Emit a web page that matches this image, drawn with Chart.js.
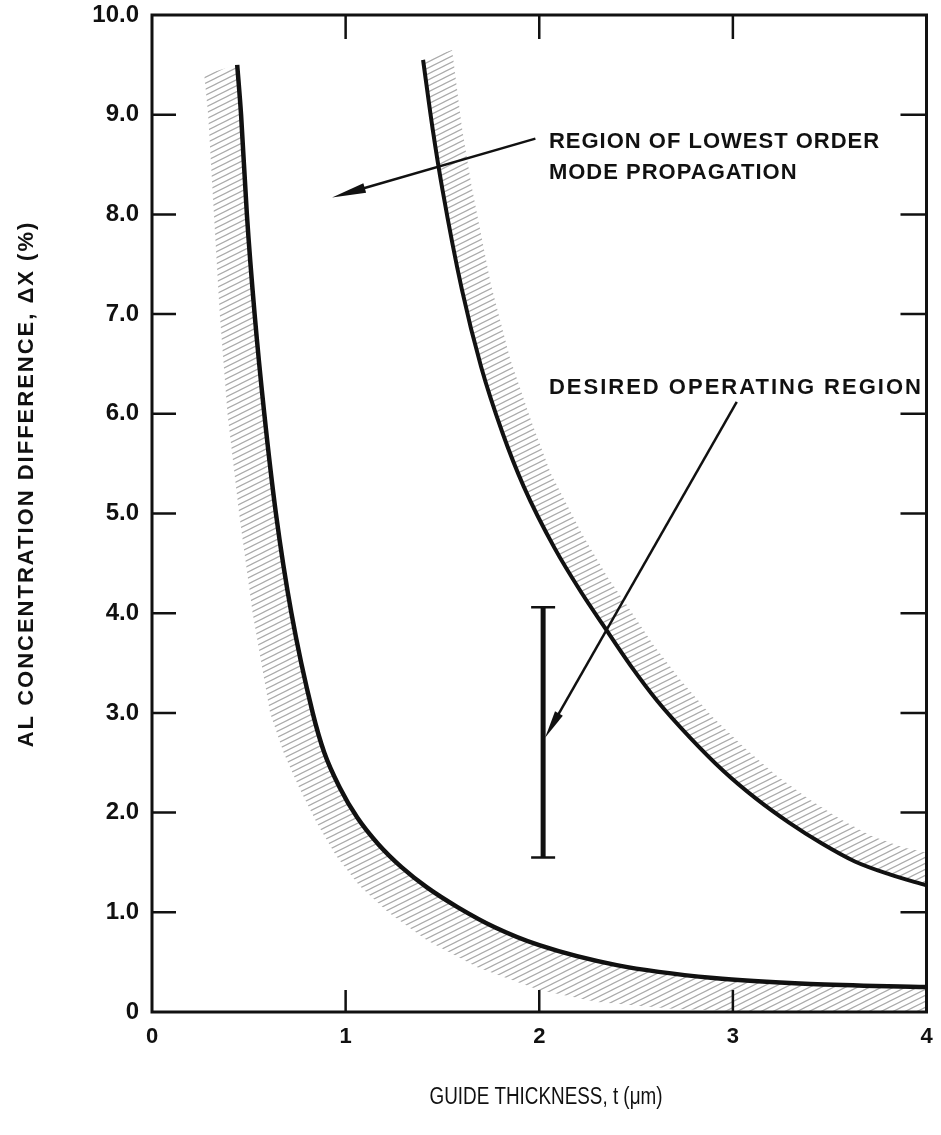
<!DOCTYPE html>
<html>
<head>
  <title>Guide thickness vs Al concentration difference</title>
  <style>
    html, body { margin: 0; padding: 0; background: #ffffff; overflow: hidden; }
    #chart { display: block; }
  </style>
</head>
<body>
  <canvas id="chart" width="941" height="1135"></canvas>

  <script src="https://cdn.jsdelivr.net/npm/chart.js"></script>
  <script>
    // Axis ticks
    const xTicks = [0, 1, 2, 3, 4];
    const yTicks = [0, 1, 2, 3, 4, 5, 6, 7, 8, 9, 10];
    const yTickLabels = ['0', '1.0', '2.0', '3.0', '4.0', '5.0', '6.0', '7.0', '8.0', '9.0', '10.0'];

    // Lower boundary (left curve): guide thickness t (um) vs delta X (%)
    const lowerT  = [0.44, 0.46, 0.49, 0.53, 0.58, 0.64, 0.72, 0.83, 0.89, 0.97, 1.06, 1.17, 1.29, 1.42, 1.58, 1.77, 2.00, 2.40, 2.90, 3.40, 4.00];
    const lowerDx = [9.5, 9.0, 8.0, 7.0, 6.0, 5.0, 4.0, 3.0, 2.6, 2.25, 1.95, 1.68, 1.45, 1.25, 1.05, 0.85, 0.67, 0.47, 0.34, 0.28, 0.25];
    // outer edge of the hatched band on the left curve
    const lowerHatchT  = [0.27, 0.29, 0.32, 0.35, 0.39, 0.45, 0.52, 0.61, 0.68, 0.76, 0.85, 0.95, 1.07, 1.22, 1.42, 1.68, 2.00, 2.30, 2.70, 3.20, 4.00];
    const lowerHatchDx = [9.4, 9.0, 8.0, 7.0, 6.0, 5.0, 4.0, 3.0, 2.6, 2.25, 1.9, 1.57, 1.27, 1.0, 0.72, 0.45, 0.22, 0.1, 0.03, 0.0, 0.0];

    // Upper boundary (right curve)
    const upperT  = [1.40, 1.45, 1.50, 1.60, 1.70, 1.81, 1.92, 2.08, 2.22, 2.33, 2.47, 2.61, 2.78, 2.95, 3.12, 3.29, 3.46, 3.63, 3.81, 4.00];
    const upperDx = [9.55, 8.85, 8.25, 7.25, 6.47, 5.81, 5.27, 4.65, 4.2, 3.88, 3.48, 3.12, 2.75, 2.42, 2.14, 1.9, 1.69, 1.51, 1.38, 1.27];
    // outer edge of the hatched band on the right curve
    const upperHatchT  = [1.55, 1.60, 1.65, 1.75, 1.85, 1.96, 2.06, 2.22, 2.35, 2.46, 2.59, 2.73, 2.89, 3.06, 3.22, 3.39, 3.55, 3.71, 3.88, 4.00];
    const upperHatchDx = [9.65, 8.88, 8.29, 7.3, 6.55, 5.92, 5.4, 4.8, 4.37, 4.06, 3.68, 3.33, 2.97, 2.65, 2.38, 2.14, 1.94, 1.77, 1.65, 1.6];

    // Desired operating region bar at t = 2 um
    const operatingT = 2.02;
    const operatingDx = [1.55, 4.06];

    // Callouts: [t, dx] pairs
    const regionArrow = [[1.98, 8.76], [0.93, 8.17]];
    const regionLabel = ['REGION OF LOWEST ORDER', 'MODE PROPAGATION'];
    const regionLabelAt = [[2.05, 8.73], [2.05, 8.42]];
    const operatingArrow = [[3.02, 6.12], [2.03, 2.75]];
    const operatingLabel = 'DESIRED OPERATING REGION';
    const operatingLabelAt = [2.05, 6.26];

    const xTitle = 'GUIDE THICKNESS, t (\u03bcm)';
    const yTitle = 'AL CONCENTRATION DIFFERENCE, \u0394X (%)';

    const INK = '#111111';
    const FONT = "'Liberation Sans', Arial, sans-serif";

    function toPoints(xs, ys) {
      return xs.map((x, i) => ({ x: x, y: ys[i] }));
    }

    // closed outline: outer hatch edge down, curve back up
    function bandPoints(edgeT, edgeDx, curveT, curveDx) {
      return toPoints(edgeT, edgeDx).concat(toPoints(curveT, curveDx).reverse());
    }

    // Diagonal hatch pattern used to fill the bands
    function makeHatch() {
      const c = document.createElement('canvas');
      c.width = 12; c.height = 6;
      const g = c.getContext('2d');
      g.strokeStyle = '#ababab';
      g.lineWidth = 1.2;
      g.beginPath();
      for (let k = -1; k <= 2; k++) {
        g.moveTo(-2, 6 * k + 1);
        g.lineTo(14, 6 * k - 7);
      }
      g.stroke();
      return g.createPattern(c, 'repeat');
    }

    function arrow(ctx, x0, y0, x1, y1, len, half) {
      const a = Math.atan2(y1 - y0, x1 - x0);
      ctx.beginPath();
      ctx.moveTo(x0, y0);
      ctx.lineTo(x1 - Math.cos(a) * len * 0.6, y1 - Math.sin(a) * len * 0.6);
      ctx.stroke();
      ctx.beginPath();
      ctx.moveTo(x1, y1);
      ctx.lineTo(x1 - Math.cos(a) * len - Math.sin(a) * half, y1 - Math.sin(a) * len + Math.cos(a) * half);
      ctx.lineTo(x1 - Math.cos(a) * len + Math.sin(a) * half, y1 - Math.sin(a) * len - Math.cos(a) * half);
      ctx.closePath();
      ctx.fill();
    }

    // Frame, inward ticks, axis titles and callouts
    const decorations = {
      id: 'decorations',
      afterDraw(chart) {
        const { ctx, chartArea: a } = chart;
        const xs = chart.scales.x, ys = chart.scales.y;
        const px = v => xs.getPixelForValue(v);
        const py = v => ys.getPixelForValue(v);
        ctx.save();
        ctx.strokeStyle = INK;
        ctx.fillStyle = INK;

        ctx.lineWidth = 3;
        ctx.strokeRect(a.left, a.top, a.right - a.left, a.bottom - a.top);

        ctx.lineWidth = 2.5;
        ctx.beginPath();
        xTicks.slice(1, -1).forEach(v => {
          ctx.moveTo(px(v), a.bottom); ctx.lineTo(px(v), a.bottom - 22);
          ctx.moveTo(px(v), a.top); ctx.lineTo(px(v), a.top + 24);
        });
        yTicks.slice(1, -1).forEach(v => {
          ctx.moveTo(a.left, py(v)); ctx.lineTo(a.left + 24, py(v));
          ctx.moveTo(a.right, py(v)); ctx.lineTo(a.right - 26, py(v));
        });
        ctx.stroke();

        // callout arrows
        ctx.lineWidth = 2.5;
        arrow(ctx, px(regionArrow[0][0]), py(regionArrow[0][1]), px(regionArrow[1][0]), py(regionArrow[1][1]), 34, 5);
        arrow(ctx, px(operatingArrow[0][0]), py(operatingArrow[0][1]), px(operatingArrow[1][0]), py(operatingArrow[1][1]), 28, 4.5);

        ctx.textAlign = 'left';
        ctx.textBaseline = 'middle';
        ctx.font = 'bold 22px ' + FONT;
        ctx.letterSpacing = '1px';
        regionLabel.forEach((s, i) => ctx.fillText(s, px(regionLabelAt[i][0]), py(regionLabelAt[i][1])));
        ctx.letterSpacing = '2px';
        ctx.fillText(operatingLabel, px(operatingLabelAt[0]), py(operatingLabelAt[1]));

        // y title, rotated
        ctx.save();
        ctx.translate(27, 484);
        ctx.rotate(-Math.PI / 2);
        ctx.textAlign = 'center';
        ctx.font = 'bold 22px ' + FONT;
        ctx.letterSpacing = '2px';
        ctx.fillText(yTitle, 0, 0);
        ctx.restore();

        // x title, condensed
        ctx.save();
        ctx.translate(546, 1098);
        ctx.scale(0.82, 1);
        ctx.textAlign = 'center';
        ctx.letterSpacing = '0px';
        ctx.font = '23px ' + FONT;
        ctx.fillText(xTitle, 0, 0);
        ctx.restore();

        ctx.restore();
      }
    };

    const hatch = makeHatch();

    const chart = new Chart(document.getElementById('chart'), {
      type: 'scatter',
      data: {
        datasets: [
          {
            label: 'lower band',
            data: bandPoints(lowerHatchT, lowerHatchDx, lowerT, lowerDx),
            showLine: true,
            fill: 'shape',
            backgroundColor: hatch,
            borderWidth: 0,
            borderColor: 'rgba(0,0,0,0)',
            pointRadius: 0,
            tension: 0,
            order: 5
          },
          {
            label: 'upper band',
            data: bandPoints(upperHatchT, upperHatchDx, upperT, upperDx),
            showLine: true,
            fill: 'shape',
            backgroundColor: hatch,
            borderWidth: 0,
            borderColor: 'rgba(0,0,0,0)',
            pointRadius: 0,
            tension: 0,
            order: 5
          },
          {
            label: 'lower boundary',
            data: toPoints(lowerT, lowerDx),
            showLine: true,
            borderColor: INK,
            borderWidth: 4.5,
            pointRadius: 0,
            cubicInterpolationMode: 'monotone',
            order: 1
          },
          {
            label: 'upper boundary',
            data: toPoints(upperT, upperDx),
            showLine: true,
            borderColor: INK,
            borderWidth: 4,
            pointRadius: 0,
            cubicInterpolationMode: 'monotone',
            order: 1
          },
          {
            label: 'desired operating region',
            data: operatingDx.map(v => ({ x: operatingT, y: v })),
            showLine: true,
            borderColor: INK,
            borderWidth: 5,
            pointStyle: 'line',
            pointRadius: 12,
            pointBorderWidth: 2.5,
            pointBorderColor: INK,
            order: 0
          }
        ]
      },
      options: {
        responsive: false,
        animation: false,
        layout: { padding: { top: 15, right: 8, left: 0, bottom: 0 } },
        plugins: {
          legend: { display: false },
          tooltip: { enabled: false }
        },
        scales: {
          x: {
            type: 'linear',
            min: 0,
            max: 4,
            afterFit: s => { s.height = 123; s.paddingLeft = 0; s.paddingRight = 0; },
            afterBuildTicks: s => { s.ticks = xTicks.map(v => ({ value: v })); },
            grid: { display: false, drawTicks: false },
            border: { display: false },
            ticks: {
              padding: 12,
              color: INK,
              font: { family: FONT, size: 22, weight: 'bold' },
              callback: v => String(v)
            }
          },
          y: {
            type: 'linear',
            min: 0,
            max: 10,
            afterFit: s => { s.width = 152; s.paddingTop = 0; s.paddingBottom = 0; },
            afterBuildTicks: s => { s.ticks = yTicks.map(v => ({ value: v })); },
            grid: { display: false, drawTicks: false },
            border: { display: false },
            ticks: {
              padding: 13,
              color: INK,
              font: { family: FONT, size: 24, weight: 'bold' },
              callback: v => yTickLabels[yTicks.indexOf(v)]
            }
          }
        }
      },
      plugins: [decorations]
    });
  </script>
</body>
</html>
